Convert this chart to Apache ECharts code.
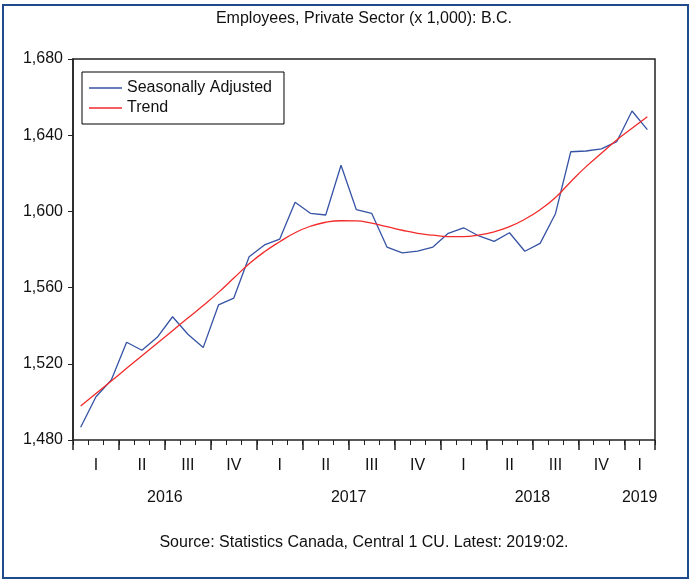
<!DOCTYPE html>
<html>
<head>
<meta charset="utf-8">
<script src="https://cdn.jsdelivr.net/npm/echarts@6/dist/echarts.min.js"></script>
<style>
html,body{margin:0;padding:0;background:#fff;}
#chart{width:691px;height:581px;}
</style>
</head>
<body>
<div id="chart"></div>
<script>
const months = ['2016-01','2016-02','2016-03','2016-04','2016-05','2016-06','2016-07','2016-08','2016-09','2016-10','2016-11','2016-12',
  '2017-01','2017-02','2017-03','2017-04','2017-05','2017-06','2017-07','2017-08','2017-09','2017-10','2017-11','2017-12',
  '2018-01','2018-02','2018-03','2018-04','2018-05','2018-06','2018-07','2018-08','2018-09','2018-10','2018-11','2018-12',
  '2019-01','2019-02'];
const seasonallyAdjusted = [1486.7,1502.7,1511.5,1531.3,1527.1,1533.9,1544.7,1535.5,1528.5,1550.9,1554.5,1576.2,
  1582.4,1585.5,1604.8,1599.0,1598.1,1624.2,1600.9,1599.0,1581.3,1578.2,1579.1,1581.3,
  1588.5,1591.4,1587.1,1584.3,1588.8,1579.1,1583.2,1598.8,1631.3,1631.7,1632.8,1636.6,
  1652.7,1642.9];
const trend = [1497.8,1504.4,1511.0,1517.6,1524.2,1530.8,1537.4,1544.0,1550.6,1557.5,1565.0,1572.5,
  1578.8,1584.1,1588.8,1592.2,1594.3,1595.1,1595.0,1593.8,1592.0,1590.1,1588.5,1587.5,
  1586.8,1586.8,1587.6,1589.3,1592.0,1595.9,1600.9,1607.3,1615.6,1623.5,1630.5,1637.5,
  1643.6,1649.7];
const quarterNames = ['I','II','III','IV'];
const yTicks = [1480,1520,1560,1600,1640,1680];
const titleText = 'Employees, Private Sector (x 1,000): B.C.';
const sourceText = 'Source: Statistics Canada, Central 1 CU. Latest: 2019:02.';

// group months into quarters and years (centers in month units)
function groups(keyFn) {
  const out = [];
  months.forEach((m, i) => {
    const k = keyFn(m);
    if (!out.length || out[out.length - 1].key !== k) out.push({key: k, start: i, end: i + 1});
    else out[out.length - 1].end = i + 1;
  });
  return out.map(g => ({key: g.key, center: (g.start + g.end) / 2}));
}
const quarterGroups = groups(m => m.slice(0, 4) + 'Q' + Math.floor((+m.slice(5) - 1) / 3));
const yearGroups = groups(m => m.slice(0, 4));
const quarterLabel = {};
quarterGroups.forEach(g => { quarterLabel[g.center] = quarterNames[+g.key.slice(5)]; });
const yearLabel = {};
yearGroups.forEach(g => { yearLabel[g.center] = g.key; });

const FONT = "'Liberation Sans', Arial, sans-serif";
const n = months.length;
const GRID = {left: 73, top: 59, width: 582, height: 381};
const plotCenter = GRID.left + GRID.width / 2;

const chart = echarts.init(document.getElementById('chart'), null, {renderer: 'canvas'});
chart.setOption({
  animation: false,
  backgroundColor: '#fff',
  title: [
    {text: titleText, left: plotCenter, textAlign: 'center', top: 11, padding: 0,
     textStyle: {fontFamily: FONT, fontSize: 16, fontWeight: 'normal', color: '#111'}},
    {text: sourceText, left: plotCenter, textAlign: 'center', top: 535, padding: 0,
     textStyle: {fontFamily: FONT, fontSize: 16, fontWeight: 'normal', color: '#111'}}
  ],
  graphic: [{
    type: 'rect', shape: {x: 3, y: 5, width: 685, height: 573},
    style: {fill: 'none', stroke: '#1f4b8e', lineWidth: 2}, silent: true, z: 100
  }],
  legend: {
    orient: 'vertical', left: 82, top: 72,
    padding: [8, 12, 8, 7], itemGap: 4, itemWidth: 33, itemHeight: 1.5, icon: 'rect',
    borderColor: '#000', borderWidth: 1, backgroundColor: '#fff',
    textStyle: {fontFamily: FONT, fontSize: 16, color: '#111', padding: [0, 0, 0, 0]},
    data: ['Seasonally Adjusted', 'Trend']
  },
  grid: Object.assign({show: true, borderColor: '#222', borderWidth: 1.5, backgroundColor: 'transparent'}, GRID),
  xAxis: [
    {type: 'category', data: months, boundaryGap: true, gridIndex: 0,
     axisLine: {show: false}, axisLabel: {show: false}, splitLine: {show: false},
     axisTick: {show: true, interval: 0, length: 5, lineStyle: {color: '#222', width: 1}}},
    {type: 'value', min: 0, max: n, interval: 3, position: 'bottom',
     axisLine: {show: false}, axisLabel: {show: false}, splitLine: {show: false},
     axisTick: {show: true, length: 10, lineStyle: {color: '#222', width: 1.5}}},
    {type: 'value', min: 0, max: n, interval: 0.5, position: 'bottom',
     axisLine: {show: false}, axisTick: {show: false}, splitLine: {show: false},
     axisLabel: {show: true, margin: 18, fontFamily: FONT, fontSize: 16, color: '#111',
       formatter: v => quarterLabel[v] || ''}},
    {type: 'value', min: 0, max: n, interval: 0.5, position: 'bottom',
     axisLine: {show: false}, axisTick: {show: false}, splitLine: {show: false},
     axisLabel: {show: true, margin: 50, fontFamily: FONT, fontSize: 16, color: '#111',
       formatter: v => yearLabel[v] || ''}}
  ],
  yAxis: {
    type: 'value', min: yTicks[0], max: yTicks[yTicks.length - 1], interval: yTicks[1] - yTicks[0],
    axisLine: {show: true, lineStyle: {color: '#222', width: 1.5}},
    axisTick: {show: true, length: 5, lineStyle: {color: '#222'}},
    splitLine: {show: false},
    axisLabel: {margin: 10, fontFamily: FONT, fontSize: 16, color: '#111',
      formatter: v => v.toLocaleString('en-US')}
  },
  series: [
    {name: 'Seasonally Adjusted', type: 'line', xAxisIndex: 0, data: seasonallyAdjusted,
     symbol: 'none', lineStyle: {color: '#3653a5', width: 1.3}, itemStyle: {color: '#3653a5'}},
    {name: 'Trend', type: 'line', xAxisIndex: 0, data: trend, smooth: true,
     symbol: 'none', lineStyle: {color: '#f22a2a', width: 1.3}, itemStyle: {color: '#f22a2a'}}
  ]
});
</script>
</body>
</html>
